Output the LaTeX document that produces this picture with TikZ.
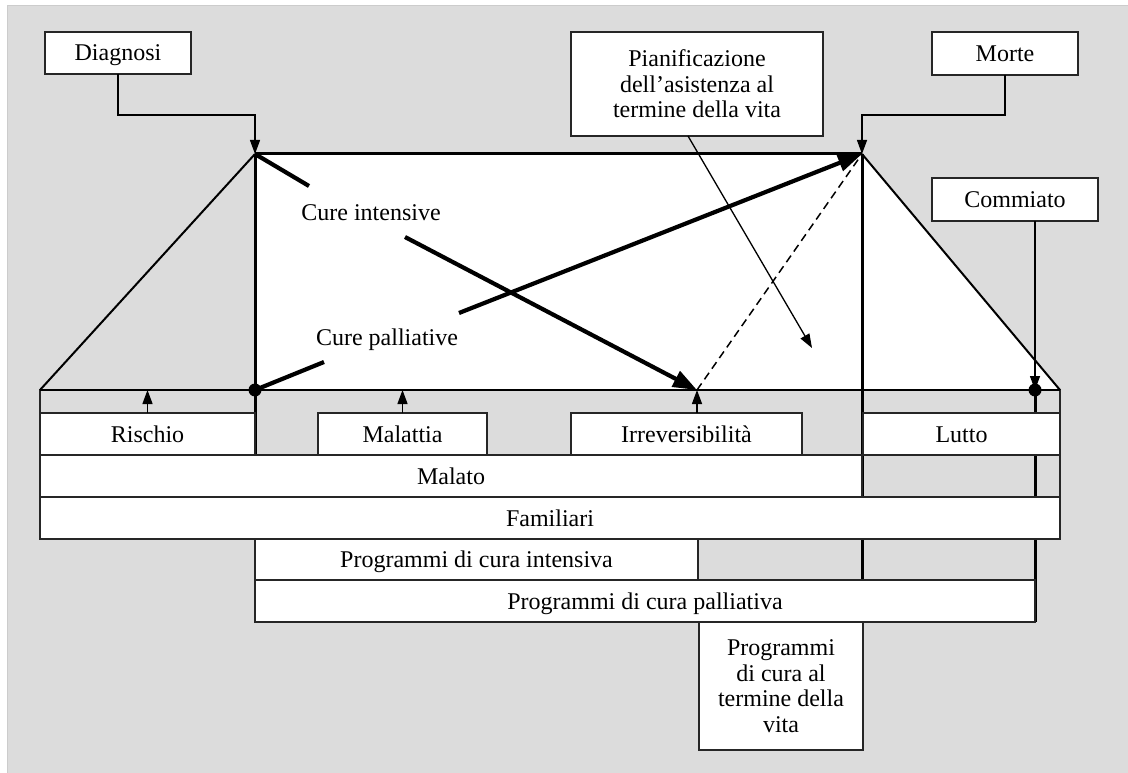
\documentclass[tikz,border=0pt]{standalone}
\usepackage{fontspec}
\setmainfont{Liberation Serif}
\usetikzlibrary{arrows.meta,calc}
\definecolor{bg}{RGB}{220,220,220}
\begin{document}
\begin{tikzpicture}[x=1pt,y=-1pt,
  box/.style={draw=black!85, line width=1.3pt, fill=white, inner sep=0pt, outer sep=0pt, anchor=north west, font=\fontsize{24}{25.5}\selectfont, align=center},
  one/.style={text height=16pt, text depth=0pt},
  conn/.style={line width=1.3pt, -{Triangle[length=14pt,width=10pt]}},
  thickline/.style={line width=4.2pt},
  bigarrow/.style={line width=4.2pt, -{Triangle[length=24pt,width=17pt]}},
  frame/.style={line width=3pt},
  lab/.style={inner sep=0pt, font=\fontsize{24}{25.5}\selectfont, text height=16pt, text depth=0pt}]
\useasboundingbox (0,0) rectangle (1128,773);
\fill[white] (0,0) rectangle (1128,773);
\draw[fill=bg, draw=black!20, line width=1pt] (7,6) rectangle (1132,777);
% coordinates
\coordinate (bl) at (40,390);
\coordinate (tl) at (255,154);
\coordinate (tr) at (862,154);
\coordinate (br) at (1060,390);
\coordinate (ml) at (255,390);
\coordinate (mr) at (862,390);
\coordinate (ia) at (697,390);
\coordinate (cd) at (1035,390);
\coordinate (pb) at (1060,539);
\coordinate (ci1) at (309,186);
\coordinate (ci2) at (405,237);
\coordinate (cp1) at (324,362);
\coordinate (cp2) at (459,313);
\coordinate (pa) at (812,348);
% panel and trapezoid
\draw[line width=1.3pt, draw=black!85] (bl) rectangle (pb);
\fill[white] (tl) rectangle (mr);
\fill[white] (tr) -- (br) -- (mr) -- cycle;
\draw[line width=2pt] (bl) -- (tl);
\draw[line width=2pt] (tr) -- (br);
\draw[line width=2.3pt] (bl) -- (br);
\draw[frame] (tl) -- (tr);
\draw[frame] (tl) -- (255,455);
\draw[frame] (tr) -- (862,580);
\draw[frame] (cd) -- (1035,622);
% bottom boxes
\node[box, one, minimum width=215pt, minimum height=42pt] (risch) at (40,413) {Rischio};
\node[box, one, minimum width=169pt, minimum height=42pt] (malat) at (318,413) {Malattia};
\node[box, one, minimum width=231pt, minimum height=42pt] (irr) at (571,413) {Irreversibilità};
\node[box, one, minimum width=197pt, minimum height=42pt] (lutto) at (863,413) {Lutto};
\node[box, one, minimum width=822pt, minimum height=42pt] (malato) at (40,455) {Malato};
\node[box, one, minimum width=1020pt, minimum height=42pt] (fam) at (40,497) {Familiari};
\node[box, one, minimum width=443pt, minimum height=41pt] (pint) at (255,539) {Programmi di cura intensiva};
\node[box, one, minimum width=780pt, minimum height=42pt] (ppal) at (255,580) {Programmi di cura palliativa};
\node[box, minimum width=164pt, minimum height=128pt] (pter) at (699,622) {Programmi\\di cura al\\termine della\\vita};
% top boxes
\node[box, one, minimum width=146pt, minimum height=42pt] (diag) at (45,32) {Diagnosi};
\node[box, minimum width=252pt, minimum height=104pt] (pian) at (571,32) {Pianificazione\\dell'asistenza al\\termine della vita};
\node[box, one, minimum width=146pt, minimum height=43pt] (morte) at (932,32) {Morte};
\node[box, one, minimum width=166pt, minimum height=43pt] (comm) at (932,178) {Commiato};
% connectors
\draw[conn] (diag.south) |- (tl |- 0,115) -- (tl);
\draw[conn] (morte.south) |- (tr |- 0,115) -- (tr);
\draw[conn] (cd |- comm.south) -- (cd);
\draw[conn] (risch.north) -- (risch.north |- bl);
\draw[conn] (malat.north) -- (malat.north |- bl);
\draw[conn] ([xshift=10.5pt]irr.north) -- (ia);
\draw[conn] ([xshift=-9pt]pian.south) -- (pa);
\draw[line width=1.5pt, dash pattern=on 8pt off 5pt] (ia) -- (tr);
% curves of care
\draw[thickline] (tl) -- (ci1);
\draw[bigarrow] (ci2) -- (ia);
\draw[thickline] (ml) -- (cp1);
\draw[bigarrow] (cp2) -- (tr);
\node[lab] (cilab) at (371,213) {Cure intensive};
\node[lab] (cplab) at (387,337) {Cure palliative};
\fill (ml) circle (6.5pt);
\fill (cd) circle (6.5pt);
\end{tikzpicture}
\end{document}
